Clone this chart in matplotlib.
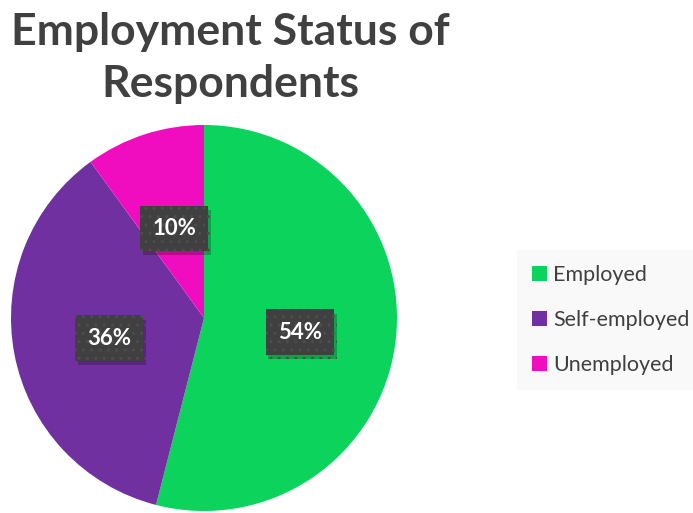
import matplotlib.pyplot as plt
from matplotlib.patches import Patch
import matplotlib.patheffects as pe

# Dane
categories = ['Employed', 'Self-employed', 'Unemployed']
shares = [54, 36, 10]
colors = ['#0BD35B', '#7030A0', '#EF0DBF']

plt.rcParams['font.family'] = ['Lato', 'DejaVu Sans']
plt.rcParams['hatch.linewidth'] = 1.0

fig = plt.figure(figsize=(6.93, 5.13), dpi=100)
ax = fig.add_axes([11 / 693, 2 / 513, 386 / 693, 386 / 513])

wedges, texts, autotexts = ax.pie(
    shares, colors=colors, startangle=90, counterclock=False,
    autopct='%1.0f%%', pctdistance=0.5,
    wedgeprops=dict(linewidth=0),
    textprops=dict(color='white', fontsize=16, fontweight='bold'),
)
ax.set_xlim(-1, 1)
ax.set_ylim(-1, 1)

# ciemne etykiety z kropkowanym tłem i cieniem
for t in autotexts:
    t.set_va('center_baseline')
    t.set_bbox(dict(boxstyle='square,pad=0.55', facecolor='#404040',
                    edgecolor='#4d4d4d', linewidth=0, hatch='..'))
    t.get_bbox_patch().set_path_effects(
        [pe.SimplePatchShadow(offset=(2, -3), shadow_rgbFace='#000000', alpha=0.22), pe.Normal()])

fig.text(0.333, 1 - 97 / 513, 'Employment Status of\nRespondents', ha='center', va='baseline',
         fontsize=32, fontweight='bold', color='#404040', linespacing=1.35)

handles = [Patch(facecolor=c, edgecolor='none') for c in colors]
leg = fig.legend(handles, categories, loc='center left', bbox_to_anchor=(523 / 693, 1 - 320 / 513),
                 frameon=True, fontsize=15.5, labelcolor='#404040', handlelength=0.7, handleheight=0.7,
                 handletextpad=0.3, labelspacing=1.15, borderpad=0.4, borderaxespad=0)
leg.get_frame().set_facecolor('#F8F8F8')
leg.get_frame().set_edgecolor('none')
leg.get_frame().set_boxstyle('square')

fig.savefig('out.png', dpi=100)
